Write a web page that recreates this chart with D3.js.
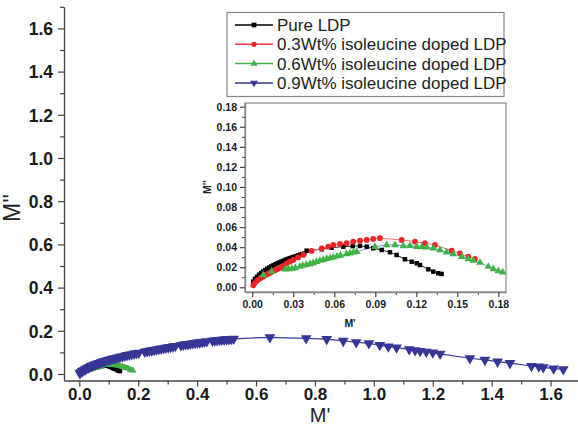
<!DOCTYPE html>
<html><head><meta charset="utf-8">
<script src="https://cdn.jsdelivr.net/npm/d3@7"></script>
<style>body{margin:0;background:#fff}svg{display:block}text{font-family:Arial,"Liberation Sans",sans-serif}</style>
</head><body>
<svg id="c" width="578" height="426"></svg>
<script>
// ---- data ----
const seriesNames = ["Pure LDP","0.3Wt% isoleucine doped LDP","0.6Wt% isoleucine doped LDP","0.9Wt% isoleucine doped LDP"];
const pureX = [0.0007,0.002,0.0035,0.005,0.0065,0.008,0.0095,0.011,0.0125,0.014,0.0155,0.017,0.0185,0.02,0.0215,0.023,0.0245,0.026,0.0275,0.029,0.0305,0.032,0.0335,0.035,0.0365,0.038,0.0398,0.0508,0.058,0.0666,0.0735,0.0788,0.0837,0.0885,0.0947,0.1007,0.1056,0.1117,0.1166,0.1203,0.1227,0.1288,0.1324,0.136,0.1385];
const pureY = [0.0056,0.0085,0.0105,0.0125,0.0142,0.0158,0.0172,0.0185,0.0197,0.0208,0.0219,0.0229,0.0239,0.0248,0.0257,0.0266,0.0275,0.0283,0.029,0.0297,0.0304,0.031,0.0317,0.0324,0.033,0.0336,0.0365,0.0379,0.0395,0.0405,0.041,0.0412,0.0405,0.0389,0.0372,0.0349,0.0322,0.0279,0.0255,0.0239,0.0222,0.0179,0.0156,0.014,0.0133];
const redX = [0.0008,0.002,0.0035,0.005,0.0065,0.008,0.0095,0.011,0.0125,0.014,0.0155,0.017,0.0185,0.02,0.0215,0.023,0.0252,0.0275,0.03,0.0335,0.0373,0.0434,0.0508,0.0556,0.0593,0.0642,0.069,0.0739,0.0788,0.0837,0.0885,0.0934,0.1093,0.119,0.1263,0.1336,0.1459,0.1519,0.158,0.1629];
const redY = [0.002,0.0045,0.0065,0.0082,0.0095,0.0108,0.012,0.0131,0.0142,0.0152,0.0162,0.0172,0.0182,0.0192,0.0203,0.0214,0.0239,0.0255,0.0272,0.0297,0.0322,0.0362,0.0389,0.0405,0.0422,0.0432,0.0439,0.0455,0.0465,0.0472,0.0482,0.0489,0.0472,0.0455,0.0439,0.0422,0.0365,0.0339,0.0305,0.0282];
const greenX = [0.008,0.0142,0.0242,0.0266,0.029,0.0315,0.0349,0.037,0.0395,0.0422,0.0445,0.047,0.0495,0.052,0.0545,0.057,0.0593,0.062,0.0645,0.069,0.0715,0.074,0.0764,0.0898,0.0983,0.1044,0.1105,0.1154,0.1203,0.124,0.1276,0.1324,0.1373,0.1422,0.147,0.1532,0.158,0.1617,0.1666,0.1727,0.1763,0.18,0.1832];
const greenY = [0.0123,0.0156,0.0179,0.0182,0.0186,0.0193,0.0206,0.0216,0.0224,0.0232,0.0243,0.0255,0.0266,0.0275,0.0284,0.0292,0.0299,0.0308,0.0316,0.0332,0.034,0.0348,0.0355,0.0405,0.0422,0.0422,0.0412,0.0415,0.0405,0.0402,0.0399,0.0389,0.0372,0.0349,0.0332,0.0305,0.0282,0.0266,0.0246,0.0206,0.0183,0.0163,0.015];
const blueX = [0.002,0.005,0.01,0.015,0.02,0.025,0.03,0.035,0.04,0.045,0.05,0.056,0.062,0.068,0.074,0.08,0.087,0.094,0.101,0.108,0.115,0.122,0.13,0.138,0.146,0.154,0.162,0.17,0.178,0.186,0.194,0.202,0.222,0.23,0.238,0.246,0.254,0.262,0.27,0.278,0.286,0.294,0.302,0.31,0.318,0.326,0.345,0.353,0.361,0.369,0.377,0.385,0.393,0.401,0.409,0.417,0.425,0.433,0.452,0.46,0.468,0.476,0.484,0.492,0.5,0.508,0.516,0.524,0.647,0.77,0.84,0.896,0.94,0.983,1.02,1.049,1.077,1.12,1.14,1.157,1.178,1.2,1.225,1.326,1.377,1.42,1.462,1.535,1.56,1.575,1.61,1.643];
const blueY = [0.003,0.008,0.013,0.017,0.021,0.025,0.029,0.032,0.036,0.039,0.042,0.045,0.048,0.051,0.054,0.057,0.06,0.063,0.066,0.068,0.071,0.073,0.076,0.079,0.081,0.084,0.087,0.089,0.091,0.094,0.096,0.098,0.103,0.105,0.107,0.109,0.111,0.113,0.115,0.117,0.119,0.121,0.123,0.125,0.127,0.129,0.133,0.135,0.137,0.138,0.14,0.142,0.143,0.145,0.146,0.148,0.149,0.151,0.154,0.155,0.156,0.157,0.158,0.159,0.16,0.161,0.162,0.163,0.17,0.165,0.161,0.153,0.147,0.142,0.134,0.127,0.122,0.114,0.11,0.106,0.103,0.099,0.093,0.073,0.065,0.057,0.05,0.037,0.034,0.031,0.025,0.022];
const mainXTicks = [0.0,0.2,0.4,0.6,0.8,1.0,1.2,1.4,1.6];
const mainYTicks = [0.0,0.2,0.4,0.6,0.8,1.0,1.2,1.4,1.6];
const insetXTicks = [0.00,0.03,0.06,0.09,0.12,0.15,0.18];
const insetYTicks = [0.00,0.02,0.04,0.06,0.08,0.10,0.12,0.14,0.16,0.18];

const colors = ["#000000","#ee2424","#3fb348","#363696"];
const lineColors = ["#222222","#f07070","#8c8ce0","#3a3aa0"];
const symbols = [d3.symbolSquare,d3.symbolCircle,d3.symbolTriangle,d3.symbolTriangle];
const rot = [0,0,0,180];
const series = [
  {x:pureX,y:pureY},{x:redX,y:redY},{x:greenX,y:greenY},{x:blueX,y:blueY}
].map((s,i)=>({name:seriesNames[i],pts:s.x.map((v,j)=>[v,s.y[j]]),i}));

const svg = d3.select("#c");
const axisCol = "#444";

// ---- main chart ----
const x = d3.scaleLinear().domain([-0.0519,1.693]).range([64,578]);
const y = d3.scaleLinear().domain([-0.0301,1.7]).range([380.5,6.8]);

function styleAxis(g,fs,bold){
  g.selectAll(".domain").attr("stroke",axisCol).attr("stroke-width",1.3);
  g.selectAll(".tick line").attr("stroke",axisCol).attr("stroke-width",1.2);
  g.selectAll("text").attr("font-size",fs).attr("font-weight",bold?"bold":"normal").attr("fill","#1a1a1a");
}
// minor ticks
const gxm = svg.append("g").attr("transform","translate(0,380.5)")
  .call(d3.axisBottom(x).tickValues(d3.range(0.1,1.7,0.2)).tickSize(4).tickFormat("").tickSizeOuter(0));
gxm.select(".domain").remove(); gxm.selectAll("line").attr("stroke",axisCol).attr("stroke-width",1.2);
const gym = svg.append("g").attr("transform","translate(64,0)")
  .call(d3.axisLeft(y).tickValues(d3.range(0.1,1.75,0.2)).tickSize(4).tickFormat("").tickSizeOuter(0));
gym.select(".domain").remove(); gym.selectAll("line").attr("stroke",axisCol).attr("stroke-width",1.2);

const gx = svg.append("g").attr("transform","translate(0,380.5)")
  .call(d3.axisBottom(x).tickValues(mainXTicks).tickSize(6).tickSizeOuter(0).tickPadding(1.5).tickFormat(d3.format(".1f")));
styleAxis(gx,17,true);
const gy = svg.append("g").attr("transform","translate(64,0)")
  .call(d3.axisLeft(y).tickValues(mainYTicks).tickSize(6).tickSizeOuter(0).tickPadding(5).tickFormat(d3.format(".1f")));
styleAxis(gy,17.5,true);
gy.selectAll("text").attr("dy","0.36em");

svg.append("text").attr("x",320).attr("y",422.3).attr("text-anchor","middle").attr("font-size",20).attr("fill","#222").text("M'");
svg.append("text").attr("transform","translate(20,208) rotate(-90)").attr("text-anchor","middle").attr("font-size",23).attr("fill","#222").text("M''");

const lineMain = d3.line().x(d=>x(d[0])).y(d=>y(d[1]));
series.forEach(s=>{
  svg.append("path").attr("d",lineMain(s.pts)).attr("fill","none").attr("stroke",lineColors[s.i]).attr("stroke-width",1.2);
});
series.forEach(s=>{
  const sz = s.i===3?50:18;
  svg.append("g").selectAll("path").data(s.pts).join("path")
    .attr("d",d3.symbol().type(symbols[s.i]).size(sz))
    .attr("transform",d=>`translate(${x(d[0])},${y(d[1])}) rotate(${rot[s.i]})`)
    .attr("fill",colors[s.i]);
});

// ---- inset ----
const ix = d3.scaleLinear().domain([-0.0053,0.1856]).range([245,506]);
const iy = d3.scaleLinear().domain([-0.0047,0.1837]).range([292,103]);
svg.append("rect").attr("x",245).attr("y",103).attr("width",261).attr("height",189).attr("fill","#fff").attr("stroke","#888").attr("stroke-width",1.2);

const ixm = svg.append("g").attr("transform","translate(0,292)")
  .call(d3.axisBottom(ix).tickValues(d3.range(0.015,0.18,0.03)).tickSize(3).tickFormat("").tickSizeOuter(0));
ixm.select(".domain").remove(); ixm.selectAll("line").attr("stroke",axisCol);
const iym = svg.append("g").attr("transform","translate(245,0)")
  .call(d3.axisLeft(iy).tickValues(d3.range(0.01,0.18,0.02)).tickSize(3).tickFormat("").tickSizeOuter(0));
iym.select(".domain").remove(); iym.selectAll("line").attr("stroke",axisCol);

const igx = svg.append("g").attr("transform","translate(0,292)")
  .call(d3.axisBottom(ix).tickValues(insetXTicks).tickSize(5).tickSizeOuter(0).tickPadding(4).tickFormat(d3.format(".2f")));
styleAxis(igx,10.5,true); igx.select(".domain").attr("stroke","#888");
const igy = svg.append("g").attr("transform","translate(245,0)")
  .call(d3.axisLeft(iy).tickValues(insetYTicks).tickSize(5).tickSizeOuter(0).tickPadding(3).tickFormat(d3.format(".2f")));
styleAxis(igy,10.5,true); igy.select(".domain").attr("stroke","#888");

svg.append("text").attr("x",350).attr("y",327).attr("text-anchor","middle").attr("font-size",10.5).attr("font-weight","bold").attr("fill","#222").text("M'");
svg.append("text").attr("transform","translate(211,187) rotate(-90)").attr("text-anchor","middle").attr("font-size",10.5).attr("font-weight","bold").attr("fill","#222").text("M''");

const lineIn = d3.line().x(d=>ix(d[0])).y(d=>iy(d[1]));
series.slice(0,3).forEach(s=>{
  svg.append("path").attr("d",lineIn(s.pts)).attr("fill","none").attr("stroke",lineColors[s.i]).attr("stroke-width",1);
});
series.slice(0,3).forEach(s=>{
  const sz = s.i===1?26:(s.i===2?26:20);
  svg.append("g").selectAll("path").data(s.pts).join("path")
    .attr("d",d3.symbol().type(symbols[s.i]).size(sz))
    .attr("transform",d=>`translate(${ix(d[0])},${iy(d[1])})`)
    .attr("fill",colors[s.i]);
});

// ---- legend ----
const lg = svg.append("g");
lg.append("rect").attr("x",227).attr("y",12.5).attr("width",277).attr("height",84).attr("fill","#fff").attr("stroke","#888").attr("stroke-width",1.2);
seriesNames.forEach((n,i)=>{
  const yy = 25 + i*19.3;
  lg.append("line").attr("x1",235).attr("x2",273).attr("y1",yy).attr("y2",yy).attr("stroke",i===2?"#3fb348":(i===1?"#ee3a3a":colors[i])).attr("stroke-width",1.5);
  lg.append("path").attr("d",d3.symbol().type(symbols[i]).size(i===3?26:22)).attr("transform",`translate(254,${yy}) rotate(${rot[i]})`).attr("fill",colors[i]);
  lg.append("text").attr("x",277).attr("y",yy).attr("dy","0.36em").attr("font-size",17).attr("fill","#222").text(n);
});
</script>
</body></html>
